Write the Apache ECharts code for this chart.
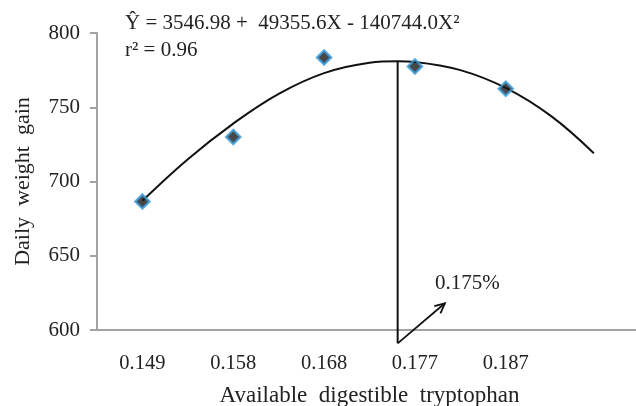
<!DOCTYPE html>
<html>
<head>
<meta charset="utf-8">
<script src="https://cdn.jsdelivr.net/npm/echarts@6/dist/echarts.min.js"></script>
<style>
  html, body { margin: 0; padding: 0; background: #fff; }
  #chart { width: 636px; height: 406px; }
</style>
</head>
<body>
<div id="chart"></div>
<script>
// tryptophan levels (category labels) and measured daily gain
const categories = ['0.149', '0.158', '0.168', '0.177', '0.187'];
const pointIndex = [0, 1, 2, 3, 4];
const gain = [686.5, 730, 783.5, 777.5, 762.5];

// fitted curve (x in category index units)
const curveX = [0, 0.5, 1, 1.5, 2, 2.5, 2.81, 3, 3.5, 4, 4.5, 4.97];
const curveY = [687, 715, 739, 759, 773, 780, 781, 780.5, 775, 763, 744, 719];

// optimum marker and arrow
const optX = 2.81;
const optY = 781;
const lineBase = 591;
const arrowTip = [3.33, 618];

const yTicks = { min: 600, max: 800, step: 50 };

const serif = '"Liberation Serif", "Times New Roman", serif';
const axisGray = '#a3a3a3';

const chart = echarts.init(document.getElementById('chart'));

const option = {
  animation: false,
  backgroundColor: '#fff',
  grid: { left: 97, top: 33, width: 545, height: 297, outerBoundsMode: 'none', containLabel: false },
  xAxis: [
    {
      type: 'category',
      data: categories.concat(['']),
      boundaryGap: true,
      name: 'Available  digestible  tryptophan',
      nameLocation: 'middle',
      nameGap: 54,
      nameMoveOverlap: false,
      nameTextStyle: { fontFamily: serif, fontSize: 23, color: '#222' },
      axisLine: { onZero: false, lineStyle: { color: axisGray, width: 2 } },
      axisTick: { length: 6, interval: 0, lineStyle: { color: axisGray, width: 2 } },
      axisLabel: { margin: 23, interval: 0, fontFamily: serif, fontSize: 20.5, color: '#222' },
      splitLine: { show: false },
    },
    {
      type: 'value',
      min: -0.5,
      max: 5.5,
      show: false,
      axisLine: { onZero: false },
    },
  ],
  yAxis: {
    type: 'value',
    min: yTicks.min,
    max: yTicks.max,
    interval: yTicks.step,
    name: 'Daily  weight  gain',
    nameLocation: 'middle',
    nameRotate: 90,
    nameGap: 63,
    nameMoveOverlap: false,
    nameTextStyle: { fontFamily: serif, fontSize: 22, color: '#222' },
    axisLine: { show: true, onZero: false, lineStyle: { color: axisGray, width: 2 } },
    axisTick: { show: true, length: 7, lineStyle: { color: axisGray, width: 2 } },
    axisLabel: { margin: 17, fontFamily: serif, fontSize: 21, color: '#222' },
    splitLine: { show: false },
  },
  graphic: [
    {
      type: 'text',
      left: 125,
      top: 13,
      style: {
        text: 'Ŷ = 3546.98 +  49355.6X - 140744.0X²',
        font: '21px ' + serif,
        fill: '#222',
      },
    },
    {
      type: 'text',
      left: 125,
      top: 40,
      style: { text: 'r² = 0.96', font: '21px ' + serif, fill: '#222' },
    },
    {
      type: 'text',
      left: 435,
      top: 273,
      style: { text: '0.175%', font: '21px ' + serif, fill: '#222' },
    },
  ],
  series: [
    {
      type: 'line',
      xAxisIndex: 1,
      data: curveX.map((x, i) => [x, curveY[i]]),
      smooth: 0.4,
      showSymbol: false,
      lineStyle: { color: '#111', width: 2 },
      z: 2,
    },
    {
      type: 'line',
      xAxisIndex: 1,
      data: [[optX, lineBase], [optX, optY]],
      clip: false,
      showSymbol: false,
      lineStyle: { color: '#111', width: 2 },
      z: 2,
    },
    {
      type: 'custom',
      xAxisIndex: 1,
      clip: false,
      data: [[optX, lineBase, arrowTip[0], arrowTip[1]]],
      renderItem: function (params, api) {
        const p0 = api.coord([api.value(0), api.value(1)]);
        const p1 = api.coord([api.value(2), api.value(3)]);
        const ang = Math.atan2(p1[1] - p0[1], p1[0] - p0[0]);
        const len = 11;
        const spread = 0.45;
        const a1 = [p1[0] - len * Math.cos(ang - spread), p1[1] - len * Math.sin(ang - spread)];
        const a2 = [p1[0] - len * Math.cos(ang + spread), p1[1] - len * Math.sin(ang + spread)];
        const style = { stroke: '#111', lineWidth: 1.8, fill: null };
        return {
          type: 'group',
          children: [
            { type: 'line', shape: { x1: p0[0], y1: p0[1], x2: p1[0], y2: p1[1] }, style: style },
            { type: 'polyline', shape: { points: [a1, p1, a2] }, style: style },
          ],
        };
      },
      z: 3,
    },
    {
      type: 'scatter',
      xAxisIndex: 1,
      data: pointIndex.map((x, i) => [x, gain[i]]),
      symbol: 'diamond',
      symbolSize: 14,
      itemStyle: { color: '#1a1a1a', borderColor: '#3a9ad9', borderWidth: 2.5 },
      z: 4,
    },
  ],
};

chart.setOption(option);
</script>
</body>
</html>
